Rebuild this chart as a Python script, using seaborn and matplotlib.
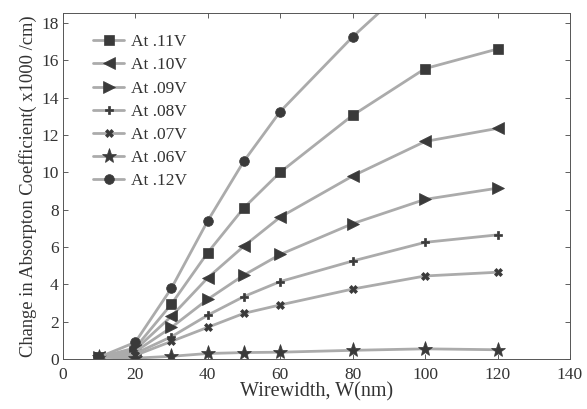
import pandas as pd
import seaborn as sns
import matplotlib.pyplot as plt

# wirewidth (nm)
widths = [10, 20, 30, 40, 50, 60, 80, 100, 120]

# change in absorption coefficient (x1000 /cm)
at_11v = [0.1, 0.6, 2.95, 5.7, 8.1, 10.0, 13.05, 15.55, 16.6]
at_10v = [0.1, 0.5, 2.3, 4.35, 6.05, 7.6, 9.8, 11.65, 12.35]
at_09v = [0.1, 0.4, 1.7, 3.2, 4.5, 5.6, 7.25, 8.55, 9.15]
at_08v = [0.1, 0.3, 1.2, 2.35, 3.35, 4.15, 5.25, 6.25, 6.65]
at_07v = [0.1, 0.2, 0.95, 1.7, 2.45, 2.9, 3.75, 4.45, 4.65]
at_06v = [0.1, 0.05, 0.15, 0.3, 0.35, 0.37, 0.47, 0.55, 0.5]
at_12v = [0.1, 0.9, 3.8, 7.4, 10.6, 13.25, 17.25, 20.8, 23.5]

labels = ["At .11V", "At .10V", "At .09V", "At .08V", "At .07V", "At .06V", "At .12V"]
series = [at_11v, at_10v, at_09v, at_08v, at_07v, at_06v, at_12v]
markers = ["s", "<", ">", "P", "X", "*", "o"]
msizes = [7, 9, 9, 6, 6, 11, 7]

rows = []
for lab, vals in zip(labels, series):
    for w, v in zip(widths, vals):
        rows.append({"W": w, "val": v, "series": lab})
df = pd.DataFrame(rows)

sns.set_style("ticks")
plt.rcParams['font.family'] = ['Liberation Serif', 'DejaVu Serif']

fig, ax = plt.subplots(figsize=(5.87, 4.09), dpi=100)
fig.subplots_adjust(left=0.107, right=0.971, bottom=0.122, top=0.967)

for lab, mk, ms in zip(labels, markers, msizes):
    sub = df[df["series"] == lab]
    sns.lineplot(data=sub, x="W", y="val", ax=ax, label=lab,
                 color="#ababab", lw=2.0, marker=mk, markersize=ms,
                 markerfacecolor="#3a3a3a", markeredgecolor="#3a3a3a",
                 markeredgewidth=0.5)

ax.set_xlim(0, 140)
ax.set_ylim(0, 18.5)
ax.set_xticks(range(0, 141, 20))
ax.set_yticks(range(0, 19, 2))
ax.tick_params(direction="in", top=True, right=True, labelsize=12.5,
               length=3.5, width=0.6, colors="#444444", labelcolor="#333333")
ax.tick_params(axis="x", pad=6)
ax.tick_params(axis="y", pad=3)
for sp in ax.spines.values():
    sp.set_visible(True)
    sp.set_linewidth(0.7)
    sp.set_color("#555555")

ax.set_xlabel("Wirewidth, W(nm)", fontsize=14.5, color="#333333", labelpad=-1)
ax.set_ylabel("Change in Absorpton Coefficient( x1000 /cm)", fontsize=13.3,
              color="#333333", labelpad=3)

leg = ax.legend(loc="upper left", frameon=False, fontsize=12.5,
                handlelength=1.8, borderaxespad=0, borderpad=0,
                labelspacing=0.4, handletextpad=0.4,
                bbox_to_anchor=(0.06, 0.94))
for t in leg.get_texts():
    t.set_color("#333333")

plt.savefig("out.png", dpi=100)
plt.close()
